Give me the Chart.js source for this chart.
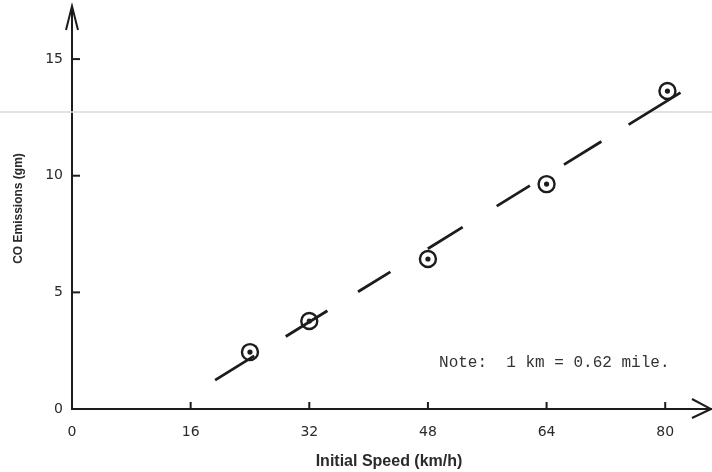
<!DOCTYPE html>
<html>
<head>
<meta charset="utf-8">
<script src="https://cdn.jsdelivr.net/npm/chart.js@4/dist/chart.umd.min.js"></script>
<style>
  html, body { margin: 0; padding: 0; background: #fff; }
  #myChart { display: block; }
</style>
</head>
<body>
<canvas id="myChart" width="712" height="472"></canvas>
<script>
// measured points (initial speed km/h, CO emissions gm)
const speedKmh = [24, 32, 48, 64, 80.3];
const coGm = [2.44, 3.77, 6.43, 9.64, 13.63];

// fitted line, drawn dashed
const fitX = [19.3, 82.2];
const fitY = [1.24, 13.59];

// tick labels
const xTicks = [0, 16, 32, 48, 64, 80];
const yTicks = [0, 5, 10, 15];

const noteText = 'Note:  1 km = 0.62 mile.';
const noteAt = { x: 49.5, y: 2.0 };
const scanLineY = 12.73; // faint scan line across the page

const ink = '#1c1c1c';

const paperPlugin = {
  id: 'paper',
  beforeDatasetsDraw(chart) {
    const ctx = chart.ctx;
    const y = chart.scales.y.getPixelForValue(scanLineY);
    ctx.save();
    ctx.strokeStyle = '#d8d8d8';
    ctx.lineWidth = 1.5;
    ctx.beginPath();
    ctx.moveTo(0, y);
    ctx.lineTo(chart.width, y);
    ctx.stroke();
    ctx.restore();
  },
  afterDraw(chart) {
    const ctx = chart.ctx;
    const xs = chart.scales.x;
    const ys = chart.scales.y;
    const x0 = xs.getPixelForValue(0);
    const y0 = ys.getPixelForValue(0);
    ctx.save();
    ctx.strokeStyle = ink;
    ctx.lineWidth = 2;
    // tick marks, inside the plot
    xTicks.forEach(function(v) {
      if (v === 0) return;
      const px = xs.getPixelForValue(v);
      ctx.beginPath();
      ctx.moveTo(px, y0);
      ctx.lineTo(px, y0 - 7);
      ctx.stroke();
    });
    yTicks.forEach(function(v) {
      if (v === 0) return;
      const py = ys.getPixelForValue(v);
      ctx.beginPath();
      ctx.moveTo(x0, py);
      ctx.lineTo(x0 + 8, py);
      ctx.stroke();
    });
    // y axis arrow
    const top = chart.chartArea.top - 2;
    ctx.beginPath();
    ctx.moveTo(x0 - 6, top + 24);
    ctx.lineTo(x0, top);
    ctx.lineTo(x0 + 6, top + 24);
    ctx.stroke();
    // x axis arrow
    ctx.beginPath();
    ctx.moveTo(chart.chartArea.right - 14, y0);
    ctx.lineTo(chart.width, y0);
    ctx.stroke();
    ctx.beginPath();
    ctx.moveTo(chart.width - 20, y0 - 10);
    ctx.lineTo(chart.width - 1, y0);
    ctx.lineTo(chart.width - 20, y0 + 9);
    ctx.stroke();
    // note
    ctx.fillStyle = '#333';
    ctx.font = '16px "Liberation Mono", "DejaVu Sans Mono", monospace';
    ctx.textBaseline = 'middle';
    ctx.textAlign = 'left';
    ctx.fillText(noteText, xs.getPixelForValue(noteAt.x), ys.getPixelForValue(noteAt.y));
    ctx.restore();
  }
};

const config = {
  type: 'scatter',
  data: {
    datasets: [
      {
        label: 'dot',
        data: speedKmh.map(function(x, i) { return { x: x, y: coGm[i] }; }),
        pointRadius: 2.6,
        pointBackgroundColor: ink,
        pointBorderWidth: 0,
        showLine: false
      },
      {
        label: 'CO emissions',
        data: speedKmh.map(function(x, i) { return { x: x, y: coGm[i] }; }),
        pointRadius: 8,
        pointBorderWidth: 2.4,
        pointBorderColor: ink,
        pointBackgroundColor: 'rgba(0,0,0,0)',
        showLine: false
      },
      {
        label: 'fit',
        data: fitX.map(function(x, i) { return { x: x, y: fitY[i] }; }),
        showLine: true,
        pointRadius: 0,
        borderColor: ink,
        borderWidth: 2.8,
        borderDash: [46, 37, 49, 36, 38, 44, 41, 40, 39, 40, 44, 32, 61, 200]
      }
    ]
  },
  options: {
    responsive: false,
    animation: false,
    layout: { autoPadding: false, padding: { left: 0, right: 6, top: 8, bottom: 0 } },
    plugins: {
      legend: { display: false },
      tooltip: { enabled: false }
    },
    scales: {
      x: {
        type: 'linear',
        min: 0,
        max: 85.5,
        afterBuildTicks: function(axis) { axis.ticks = xTicks.map(function(v) { return { value: v }; }); },
        afterFit: function(axis) {
          axis.height = 63;
          axis.paddingLeft = 0;
          axis.paddingRight = 0;
        },
        grid: { display: false, drawTicks: false },
        border: { display: true, color: ink, width: 2 },
        ticks: {
          color: '#2a2a2a',
          font: { family: '"DejaVu Sans"', size: 14 },
          padding: 15,
          maxRotation: 0
        },
        title: {
          display: true,
          text: 'Initial Speed (km/h)',
          color: '#2a2a2a',
          font: { family: '"Liberation Sans", Arial', size: 16, weight: 'bold' },
          padding: { top: 0, bottom: 1 }
        }
      },
      y: {
        type: 'linear',
        min: 0,
        max: 17.19,
        afterBuildTicks: function(axis) { axis.ticks = yTicks.map(function(v) { return { value: v }; }); },
        afterFit: function(axis) {
          axis.width = 72;
          axis.paddingTop = 0;
          axis.paddingBottom = 0;
        },
        grid: { display: false, drawTicks: false },
        border: { display: true, color: ink, width: 2 },
        ticks: {
          color: '#2a2a2a',
          font: { family: '"DejaVu Sans"', size: 14 },
          padding: 9
        },
        title: {
          display: true,
          text: 'CO Emissions (gm)',
          color: '#2a2a2a',
          font: { family: '"Liberation Sans", Arial', size: 12, weight: 'bold' },
          padding: { top: 11, bottom: 0 }
        }
      }
    }
  },
  plugins: [paperPlugin]
};

const myChart = new Chart(document.getElementById('myChart'), config);
</script>
</body>
</html>
